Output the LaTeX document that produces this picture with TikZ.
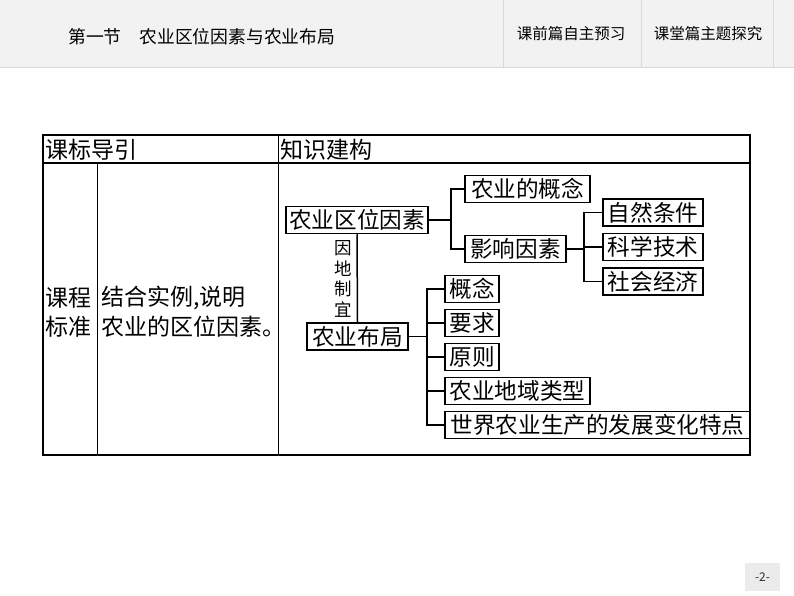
\documentclass[tikz,border=0pt]{standalone}
\usepackage{fontspec}
\setmainfont{Noto Sans CJK SC}
\definecolor{hdrgray}{HTML}{F2F2F2}
\definecolor{sepgray}{HTML}{D9D9D9}
\definecolor{pggray}{HTML}{EBEBEB}
\begin{document}
\begin{tikzpicture}[x=1pt,y=-1pt,
  box/.style={draw=black,line width=1.5pt,inner sep=0pt,minimum height=27pt,font=\fontsize{22.6}{24}\selectfont},
  conn/.style={line width=1.5pt,black},
  cell/.style={inner sep=0pt,font=\fontsize{23}{25}\selectfont}]
\useasboundingbox (0,0) rectangle (794,596);
\fill[white] (0,0) rectangle (794,596);
% header band
\fill[hdrgray] (0,0) rectangle (794,67);
\draw[sepgray,line width=0.8pt] (0,67) -- (794,67);
\draw[sepgray,line width=0.8pt] (503,0) -- (503,67);
\draw[sepgray,line width=0.8pt] (641,0) -- (641,67);
\draw[sepgray,line width=0.8pt] (773,0) -- (773,67);
\node[anchor=west,inner sep=0pt,font=\fontsize{17.8}{20}\selectfont] (title) at (68,37) {第一节\hspace{1em}农业区位因素与农业布局};
\node[inner sep=0pt,font=\fontsize{15.5}{18}\selectfont] (tab1) at (571,34) {课前篇自主预习};
\node[inner sep=0pt,font=\fontsize{15.5}{18}\selectfont] (tab2) at (708,34) {课堂篇主题探究};
% page number
\fill[pggray] (745,563) rectangle (780,591);
\node[inner sep=0pt,font=\fontsize{12}{14}\selectfont,text=black!80] (pg) at (762.5,577) {-2-};
% table
\draw[line width=1.3pt] (43,163) -- (750,163);
\draw[line width=1.3pt] (97.5,163) -- (97.5,455);
\draw[line width=1.3pt] (278.5,135) -- (278.5,455);
\draw[line width=2pt] (43,135) rectangle (750,455);
\node[cell,anchor=west] (h1) at (45,149.5) {课标导引};
\node[cell,anchor=west] (h2) at (280.5,149.5) {知识建构};
\node[cell,anchor=west] (kc1) at (45,298) {课程};
\node[cell,anchor=west] (kc2) at (45,327) {标准};
\node[cell,anchor=west] (bz1) at (101,298) {结合实例,说明};
\node[cell,anchor=west] (bz2) at (101,327) {农业的区位因素。};
% diagram
\node[box,minimum width=142pt] (loc) at (357,220) {农业区位因素};
\node[box,minimum width=125pt] (gn) at (527.5,189) {农业的概念};
\node[box,minimum width=101pt] (yx) at (515.5,249) {影响因素};
\node[box,minimum width=100pt] (zr) at (653,212.5) {自然条件};
\node[box,minimum width=100pt] (kx) at (653,247) {科学技术};
\node[box,minimum width=100pt] (sh) at (653,281.5) {社会经济};
\node[box,minimum width=101pt] (bj) at (357.5,336.5) {农业布局};
\node[box,minimum width=54pt] (c1) at (472,289) {概念};
\node[box,minimum width=54pt] (c2) at (472,323) {要求};
\node[box,minimum width=54pt] (c3) at (472,357) {原则};
\node[box,minimum width=145pt] (c4) at (517.5,391) {农业地域类型};
\node[box,minimum width=305pt] (c5) at (597.5,425) {世界农业生产的发展变化特点};
\node[inner sep=0pt,align=center,font=\fontsize{17.5}{20.7}\selectfont] (ydzy) at (343,279) {因\\地\\制\\宜};
\coordinate (b1) at (451,220);
\coordinate (b2) at (584,249);
\coordinate (b3) at (427,336.5);
\draw[conn] (loc.east) -- (b1);
\draw[conn] (gn.west) -| (b1);
\draw[conn] (yx.west) -| (b1);
\draw[conn] (yx.east) -- (b2);
\draw[conn] (zr.west) -| (b2);
\draw[conn] (kx.west) -| (b2);
\draw[conn] (sh.west) -| (b2);
\draw[conn] (loc.south) -- (bj.north);
\draw[conn] (bj.east) -- (b3);
\draw[conn] (c1.west) -| (b3);
\draw[conn] (c2.west) -| (b3);
\draw[conn] (c3.west) -| (b3);
\draw[conn] (c4.west) -| (b3);
\draw[conn] (c5.west) -| (b3);
\end{tikzpicture}
\end{document}
